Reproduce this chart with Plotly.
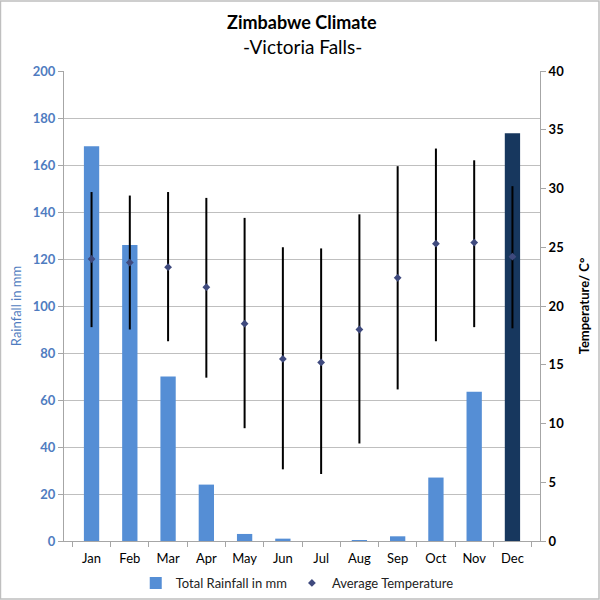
import plotly.graph_objects as go

months = ["Jan", "Feb", "Mar", "Apr", "May", "Jun", "Jul", "Aug", "Sep", "Oct", "Nov", "Dec"]
rainfall = [168, 126, 70, 24, 3, 1, 0, 0.4, 2, 27, 63.5, 173.5]
avg_temp = [24.0, 23.7, 23.3, 21.6, 18.5, 15.5, 15.2, 18.0, 22.4, 25.3, 25.4, 24.2]
max_temp = [29.7, 29.4, 29.7, 29.2, 27.5, 25.0, 24.9, 27.8, 31.9, 33.4, 32.4, 30.2]
min_temp = [18.2, 18.0, 17.0, 13.9, 9.6, 6.1, 5.7, 8.3, 12.9, 17.0, 18.2, 18.1]
rain_ticks = [0, 20, 40, 60, 80, 100, 120, 140, 160, 180, 200]
temp_ticks = [0, 5, 10, 15, 20, 25, 30, 35, 40]

bar_colors = ["#558ED5"] * 11 + ["#17375E"]

err_plus = [mx - a for mx, a in zip(max_temp, avg_temp)]
err_minus = [a - mn for a, mn in zip(avg_temp, min_temp)]

FONT = "Lato, 'Open Sans', sans-serif"

fig = go.Figure()
fig.add_trace(go.Bar(
    x=months, y=rainfall, name="Total Rainfall in mm",
    marker=dict(color=bar_colors, line=dict(width=0)),
    yaxis="y",
))
fig.add_trace(go.Scatter(
    x=months, y=avg_temp, name="Average Temperature", mode="markers",
    marker=dict(symbol="diamond", size=6, color="#3F4A7E"),
    error_y=dict(type="data", symmetric=False, array=err_plus, arrayminus=err_minus,
                 color="black", thickness=2, width=0),
    yaxis="y2",
))

W, H = 600, 600
ml, mr, mt, mb = 64, 60, 71, 59
pw, ph = W - ml - mr, H - mt - mb

fig.update_layout(
    width=W, height=H,
    margin=dict(l=ml, r=mr, t=mt, b=mb, autoexpand=False),
    paper_bgcolor="white", plot_bgcolor="white",
    font=dict(family=FONT, size=12, color="black"),
    bargap=0.6,
    showlegend=True,
    legend=dict(orientation="h", x=0.49, xanchor="center", y=-42 / ph, yanchor="middle",
                font=dict(size=13, color="#222"), itemwidth=30, traceorder="normal"),
    annotations=[
        dict(text="<b>Zimbabwe Climate</b>", x=0.5, xref="paper", y=1 + 49 / ph, yref="paper",
             xanchor="center", yanchor="middle", showarrow=False,
             font=dict(size=18, family=FONT, color="black")),
        dict(text="-Victoria Falls-", x=0.5, xref="paper", y=1 + 24 / ph, yref="paper",
             xanchor="center", yanchor="middle", showarrow=False,
             font=dict(size=19, family=FONT, color="black")),
    ],
    xaxis=dict(
        type="category", showline=True, linecolor="#A6A6A6", linewidth=1,
        ticks="outside", tickson="boundaries", ticklen=5, tickcolor="#A6A6A6",
        tickfont=dict(size=13, color="black"), showgrid=False, mirror=False,
        ticklabelstandoff=5, automargin=False,
    ),
    yaxis=dict(
        range=[0, 200], tickmode="array", tickvals=rain_ticks,
        ticktext=[f"<b>{v}</b>" for v in rain_ticks],
        showline=True, linecolor="#A6A6A6", linewidth=1,
        ticks="outside", ticklen=5, tickcolor="#A6A6A6",
        showgrid=True, gridcolor="#BFBFBF", gridwidth=1.3, zeroline=False,
        tickfont=dict(size=13, color="#4F7CC0", family=FONT),
        title=dict(text="Rainfall in mm", font=dict(size=13, color="#4F7CC0"), standoff=8),
        automargin=False,
    ),
    yaxis2=dict(
        range=[0, 40], tickmode="array", tickvals=temp_ticks,
        ticktext=[f"<b>{v}</b>" for v in temp_ticks],
        overlaying="y", side="right",
        showline=True, linecolor="#A6A6A6", linewidth=1,
        ticks="outside", ticklen=5, tickcolor="#A6A6A6", showgrid=False, zeroline=False,
        tickfont=dict(size=13, color="black", family=FONT),
        title=dict(text="<b>Temperature/ C°</b>", font=dict(size=13, color="black"), standoff=16),
        automargin=False,
    ),
    shapes=[dict(type="rect", xref="paper", yref="paper",
                 x0=-ml / pw + 0.001, x1=1 + (mr - 1) / pw, y0=-(mb - 1) / ph, y1=1 + (mt - 1) / ph,
                 line=dict(color="#BFBFBF", width=1.5), fillcolor="rgba(0,0,0,0)", layer="below")],
)

fig.write_html("out.html", config={"displayModeBar": False},
               post_script="document.body.style.margin='0';document.body.style.overflow='hidden';")
